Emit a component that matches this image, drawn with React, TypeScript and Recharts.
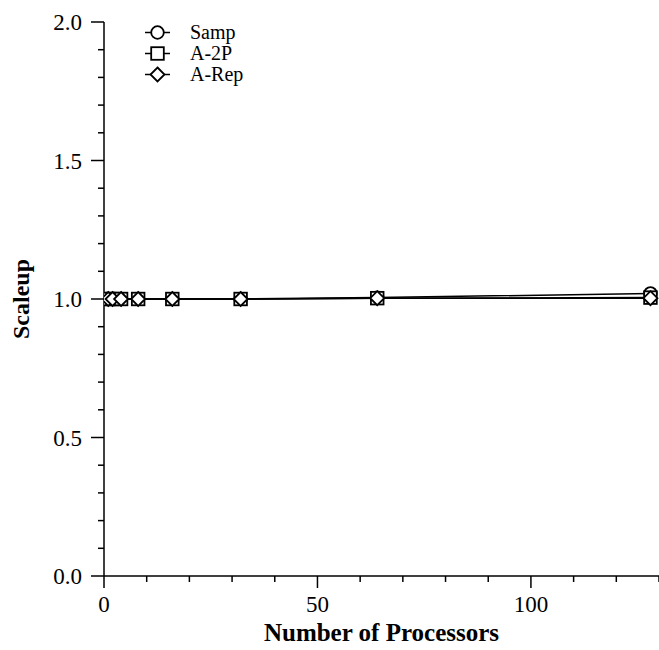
import React from "react";
import { LineChart, Line, XAxis, YAxis, Legend } from "recharts";

const processors = [1, 2, 4, 8, 16, 32, 64, 128];
const sampScaleup = [1.0, 1.0, 1.0, 1.0, 1.0, 1.0, 1.005, 1.02];
const a2pScaleup = [1.0, 1.0, 1.0, 1.0, 1.0, 1.0, 1.003, 1.005];
const aRepScaleup = [1.0, 1.0, 1.0, 1.0, 1.0, 1.0, 1.003, 1.003];

const xTicks = [0, 10, 20, 30, 40, 50, 60, 70, 80, 90, 100, 110, 120, 130];
const xLabeled = [0, 50, 100];
const yTicks = Array.from({ length: 21 }, (_, i) => Math.round(i) / 10);
const yLabeled = [0, 0.5, 1.0, 1.5, 2.0];

const data = processors.map((p, i) => ({
  p,
  samp: sampScaleup[i],
  a2p: a2pScaleup[i],
  arep: aRepScaleup[i],
}));

const FONT = "'Liberation Serif', 'Times New Roman', serif";

const XTick = (props: any) => {
  const { x, y, payload } = props;
  const v = payload.value;
  const major = xLabeled.includes(v);
  return (
    <g>
      <line x1={x} x2={x} y1={y} y2={y + (major ? 12 : 6)} stroke="#000" strokeWidth={1.5} />
      {major && (
        <text x={x} y={y + 36} textAnchor="middle" fontFamily={FONT} fontSize={23} fill="#000">
          {v}
        </text>
      )}
    </g>
  );
};

const YTick = (props: any) => {
  const { x, y, payload } = props;
  const v = payload.value;
  const major = yLabeled.some((m) => Math.abs(m - v) < 1e-6);
  return (
    <g>
      <line x1={x} x2={x - (major ? 13 : 6)} y1={y} y2={y} stroke="#000" strokeWidth={1.5} />
      {major && (
        <text x={x - 22} y={y} dy="0.35em" textAnchor="end" fontFamily={FONT} fontSize={23} fill="#000">
          {v.toFixed(1)}
        </text>
      )}
    </g>
  );
};

const XTitle = (props: any) => {
  const vb = props.viewBox;
  return (
    <text x={vb.x + vb.width / 2} y={vb.y + 65} textAnchor="middle" fontFamily={FONT} fontSize={25} fontWeight="bold" fill="#000">
      Number of Processors
    </text>
  );
};

const YTitle = (props: any) => {
  const vb = props.viewBox;
  const cx = 29;
  const cy = vb.y + vb.height / 2;
  return (
    <text x={cx} y={cy} transform={`rotate(-90 ${cx} ${cy})`} textAnchor="middle" fontFamily={FONT} fontSize={24} fontWeight="bold" fill="#000">
      Scaleup
    </text>
  );
};

const MarkerShape = ({ type, cx, cy }: { type: string; cx: number; cy: number }) => {
  if (type === "circle") {
    return <circle cx={cx} cy={cy} r={6.3} fill="#fff" stroke="#000" strokeWidth={1.8} />;
  }
  if (type === "square") {
    return <rect x={cx - 6.3} y={cy - 6.3} width={12.6} height={12.6} fill="#fff" stroke="#000" strokeWidth={1.8} />;
  }
  return (
    <polygon
      points={`${cx},${cy - 7} ${cx + 7},${cy} ${cx},${cy + 7} ${cx - 7},${cy}`}
      fill="#fff"
      stroke="#000"
      strokeWidth={1.8}
    />
  );
};

const makeDot = (type: string) => (props: any) => {
  const { cx, cy, index } = props;
  return <MarkerShape key={`${type}-${index}`} type={type} cx={cx} cy={cy} />;
};

const legendItems = [
  { label: "Samp", type: "circle" },
  { label: "A-2P", type: "square" },
  { label: "A-Rep", type: "diamond" },
];

const renderLegend = () => (
  <div style={{ fontFamily: FONT, fontSize: 20, lineHeight: "21px" }}>
    {legendItems.map((it) => (
      <div key={it.label} style={{ display: "flex", alignItems: "center", height: 21 }}>
        <svg width={30} height={21} style={{ display: "block" }}>
          <line x1={2} x2={27} y1={10.5} y2={10.5} stroke="#000" strokeWidth={1.5} />
          <MarkerShape type={it.type} cx={14.5} cy={10.5} />
        </svg>
        <span style={{ marginLeft: 17, lineHeight: "21px" }}>{it.label}</span>
      </div>
    ))}
  </div>
);

export default function App() {
  return (
    <div style={{ position: "absolute", left: 0, top: 0, width: 659, height: 650, background: "#fff" }}>
      <LineChart width={659} height={650} data={data} margin={{ top: 22, right: 0, bottom: 0, left: 0 }}>
        <XAxis
          dataKey="p"
          type="number"
          domain={[0, 130]}
          ticks={xTicks}
          interval={0}
          height={74}
          tickSize={0}
          tickMargin={0}
          tickLine={false}
          tick={<XTick />}
          axisLine={{ stroke: "#000", strokeWidth: 1.5 }}
          allowDataOverflow
          label={{ content: XTitle }}
        />
        <YAxis
          type="number"
          domain={[0, 2]}
          ticks={yTicks}
          interval={0}
          width={104}
          tickSize={0}
          tickMargin={0}
          tickLine={false}
          tick={<YTick />}
          axisLine={{ stroke: "#000", strokeWidth: 1.5 }}
          label={{ content: YTitle }}
        />
        <Legend
          layout="vertical"
          verticalAlign="middle"
          align="center"
          content={renderLegend}
          wrapperStyle={{ left: 143, top: 22, width: 130, height: 63 }}
        />
        <Line dataKey="samp" stroke="#000" strokeWidth={1.5} dot={makeDot("circle")} isAnimationActive={false} />
        <Line dataKey="a2p" stroke="#000" strokeWidth={1.5} dot={makeDot("square")} isAnimationActive={false} />
        <Line dataKey="arep" stroke="#000" strokeWidth={1.5} dot={makeDot("diamond")} isAnimationActive={false} />
      </LineChart>
    </div>
  );
}
